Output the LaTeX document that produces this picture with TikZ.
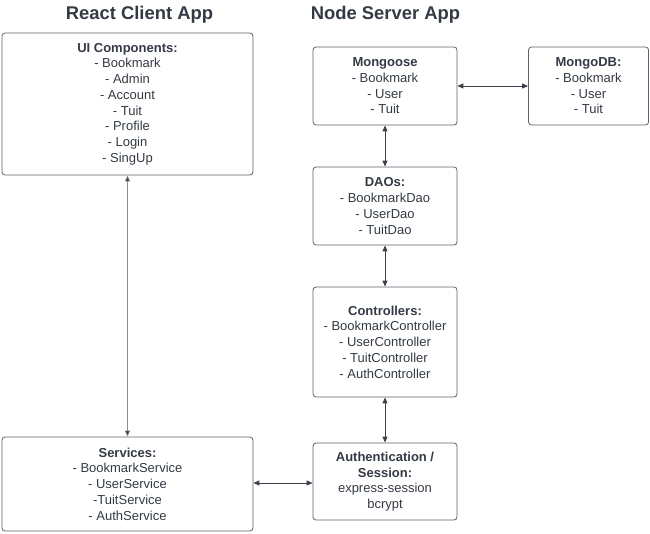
\documentclass[tikz,border=0pt]{standalone}
\usepackage{fontspec}
\setmainfont{Liberation Sans}
\usetikzlibrary{arrows.meta}
\definecolor{txt}{HTML}{333A44}
\definecolor{boxline}{HTML}{5E6168}
\definecolor{arr}{HTML}{3A414A}
\definecolor{thinarr}{HTML}{8A8D92}
\tikzset{
  box/.style={draw=boxline, line width=0.8pt, rounded corners=3pt, rectangle,
    align=center, text=txt, inner sep=0pt,
    font=\fontsize{13}{15.7}\selectfont},
  title/.style={anchor=base, text=txt, font=\fontsize{18.4}{22}\selectfont\bfseries},
  link/.style={draw=arr, line width=0.9pt, {Triangle[length=6pt,width=5pt]}-{Triangle[length=6pt,width=5pt]}},
  thinlink/.style={draw=thinarr, line width=0.6pt, {Triangle[length=6pt,width=5pt,fill=arr]}-{Triangle[length=6pt,width=5pt,fill=arr]}}
}
\begin{document}
\begin{tikzpicture}[x=1pt,y=-1pt]
\useasboundingbox (0,0) rectangle (650,533);
\node[title] (t1) at (139.5,19.5) {React Client App};
\node[title] (t2) at (385.5,19.5) {Node Server App};

\node[box, minimum width=251pt, minimum height=142pt] (ui) at (127.5,104)
  {\textbf{UI Components:}\\- Bookmark\\- Admin\\- Account\\- Tuit\\- Profile\\- Login\\- SingUp};
\node[box, minimum width=251pt, minimum height=94pt] (svc) at (127.5,484)
  {\textbf{Services:}\\- BookmarkService\\- UserService\\-TuitService\\- AuthService};
\node[box, minimum width=144pt, minimum height=78pt] (mg) at (385,86)
  {\textbf{Mongoose}\\- Bookmark\\- User\\- Tuit};
\node[box, minimum width=120pt, minimum height=78pt] (db) at (588.5,86)
  {\textbf{MongoDB:}\\- Bookmark\\- User\\- Tuit};
\node[box, minimum width=144pt, minimum height=78pt] (dao) at (385,206)
  {\textbf{DAOs:}\\- BookmarkDao\\- UserDao\\- TuitDao};
\node[box, minimum width=144pt, minimum height=110pt] (ctl) at (385,342)
  {\textbf{Controllers:}\\- BookmarkController\\- UserController\\- TuitController\\- AuthController};
\node[box, minimum width=144pt, minimum height=77pt] (auth) at (385,481.5)
  {\textbf{Authentication /}\\\textbf{Session:}\\express-session\\bcrypt};

\draw[link] (mg.east) -- (db.west);
\draw[link] (mg.south) -- (dao.north);
\draw[link] (dao.south) -- (ctl.north);
\draw[link] (ctl.south) -- (auth.north);
\draw[thinlink] (ui.south) -- (svc.north);
\coordinate (sa) at ([yshift=1pt]svc.east);
\draw[link] (sa) -- (sa -| auth.west);
\end{tikzpicture}
\end{document}
